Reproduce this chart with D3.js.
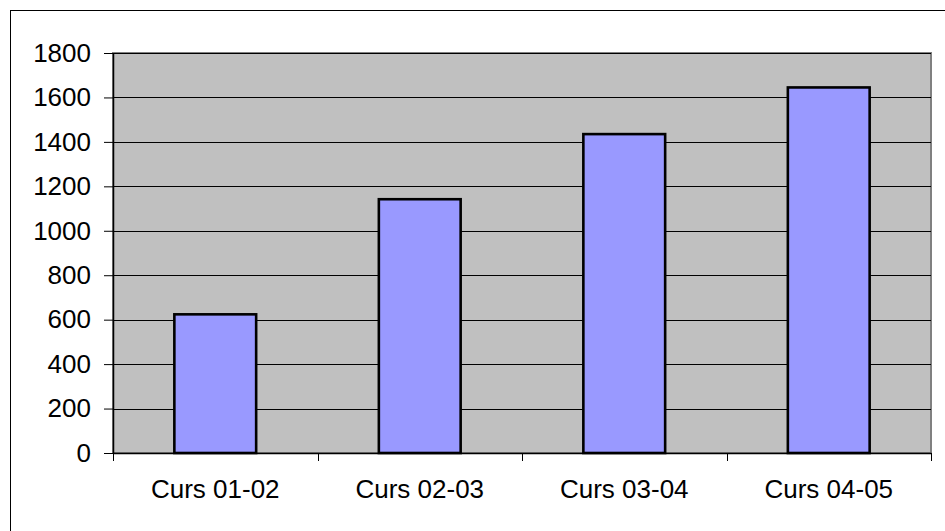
<!DOCTYPE html>
<html lang="en">
<head>
    <meta charset="UTF-8">
    <title>Curs</title>
    <script src="https://cdn.jsdelivr.net/npm/d3@7"></script>
    <style>
        body { margin: 0; background: #fff; }
        text { font-family: "Liberation Sans", Arial, sans-serif; }
    </style>
</head>
<body>
<svg width="945" height="531"></svg>
<script>

    const categories = ["Curs 01-02", "Curs 02-03", "Curs 03-04", "Curs 04-05"]
    const values = [624, 1142, 1435, 1645]
    const yTicks = [0, 200, 400, 600, 800, 1000, 1200, 1400, 1600, 1800]

    const svg = d3.select("svg")
    const plot = {left: 113, right: 931, top: 53, bottom: 453}
    const labelSize = "26px"

    // outer chart frame (right/bottom edges fall outside the picture)
    svg.append("rect")
        .attr("x", 10.5).attr("y", 10.5)
        .attr("width", 960).attr("height", 560)
        .attr("fill", "#fff")
        .attr("stroke", "#000")
        .attr("stroke-width", 1)

    const xCat = d3.scaleBand()
        .domain(categories)
        .range([plot.left, plot.right])
        .padding(0)

    const xBar = d3.scaleBand()
        .domain(categories)
        .range([plot.left, plot.right])
        .paddingInner(0.6)
        .paddingOuter(0.3)

    const y = d3.scaleLinear()
        .domain([0, 1800])
        .range([plot.bottom, plot.top])

    // plot area
    svg.append("rect")
        .attr("x", plot.left).attr("y", plot.top)
        .attr("width", plot.right - plot.left)
        .attr("height", plot.bottom - plot.top)
        .attr("fill", "#c0c0c0")
        .attr("stroke", "#808080")
        .attr("stroke-width", 2)

    // gridlines
    svg.append("g")
        .selectAll("line")
        .data(yTicks.slice(1))
        .enter()
        .append("line")
        .attr("x1", plot.left).attr("x2", plot.right)
        .attr("y1", d => Math.round(y(d)) + 0.5)
        .attr("y2", d => Math.round(y(d)) + 0.5)
        .attr("stroke", "#000")
        .attr("stroke-width", 1)

    // bars
    svg.append("g")
        .selectAll("rect")
        .data(values)
        .enter()
        .append("rect")
        .attr("x", (d, i) => xBar(categories[i]))
        .attr("y", d => y(d))
        .attr("width", xBar.bandwidth())
        .attr("height", d => plot.bottom - y(d))
        .attr("fill", "#9999ff")
        .attr("stroke", "#000")
        .attr("stroke-width", 2.6)

    // y axis
    const yAxis = svg.append("g")
        .attr("transform", `translate(${plot.left},0)`)
        .call(d3.axisLeft(y).tickValues(yTicks).tickFormat(d3.format("d"))
            .tickSize(9).tickPadding(13).tickSizeOuter(0))
    yAxis.select(".domain").attr("stroke", "#000").attr("stroke-width", 1.5)
    yAxis.selectAll("text").attr("font-size", labelSize).attr("fill", "#000")
        .attr("font-family", '"Liberation Sans", Arial, sans-serif')

    // x axis: labels at centres, ticks at category boundaries
    const xAxis = svg.append("g")
        .attr("transform", `translate(0,${plot.bottom})`)
        .call(d3.axisBottom(xCat).tickSize(0).tickPadding(27).tickSizeOuter(0))
    xAxis.select(".domain").attr("stroke", "#000").attr("stroke-width", 1.5)
    xAxis.selectAll("text").attr("font-size", labelSize).attr("fill", "#000")
        .attr("font-family", '"Liberation Sans", Arial, sans-serif')

    const bounds = categories.map(c => xCat(c)).concat([plot.right])
    xAxis.selectAll(".bound")
        .data(bounds)
        .enter()
        .append("line")
        .attr("class", "bound")
        .attr("x1", d => Math.round(d) + 0.5).attr("x2", d => Math.round(d) + 0.5)
        .attr("y1", 0).attr("y2", 8)
        .attr("stroke", "#000")
        .attr("stroke-width", 1)

</script>
</body>
</html>
